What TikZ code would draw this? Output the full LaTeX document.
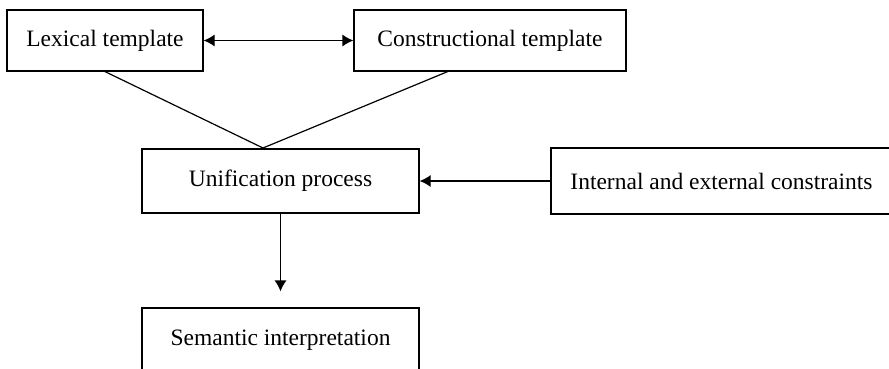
\documentclass[tikz,border=0pt]{standalone}
\usepackage{fontspec}
\setmainfont{Liberation Serif}
\usetikzlibrary{calc,arrows.meta}

\begin{document}
\begin{tikzpicture}[x=1pt,y=-1pt,
        box/.style={draw, line width=1.2pt, inner sep=0pt, minimum height=64pt,
            font=\fontsize{23.5}{28}\selectfont},
        link/.style={line width=1.2pt},
        onearrow/.style={link, -{Latex[length=11pt,width=12pt]}},
        twoarrow/.style={link, {Latex[length=11pt,width=12pt]}-{Latex[length=11pt,width=12pt]}}]
    \path[use as bounding box, clip] (0,0) rectangle (889,369);

    \node[box, minimum width=196pt, minimum height=61pt] (lexical) at (105,40.5) {Lexical template};
    \node[box, minimum width=272pt, minimum height=61pt] (constr) at (490,40.5) {Constructional template};
    \node[box, minimum width=277pt] (unif) at (280.5,181) {Unification process};
    \node[box, minimum width=341pt, minimum height=66pt] (cstr) at (721.5,181) {Internal and external constraints};
    \node[box, minimum width=277pt] (sem) at (280.5,340) {Semantic interpretation};

    \coordinate (meet) at (263,148);

    \draw[twoarrow] (lexical) -- (constr);
    \draw[link] (lexical.south) -- (meet) -- ($(constr.south west)!0.345!(constr.south east)$);
    \draw[onearrow] (cstr) -- (unif);
    \draw[onearrow, shorten >=16pt] (unif) -- (sem); % gap above the last box
\end{tikzpicture}
\end{document}
